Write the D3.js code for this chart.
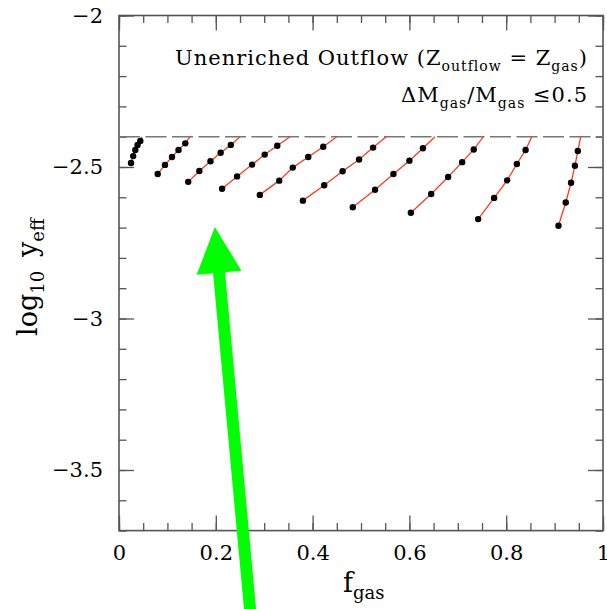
<html>
<head>
<meta charset="utf-8">
<script src="https://cdnjs.cloudflare.com/ajax/libs/d3/7.8.5/d3.min.js"></script>
<style>
  body { margin: 0; background: #fff; }
  svg text { font-family: "DejaVu Serif", serif; fill: #000; }
</style>
</head>
<body>
<svg id="chart" width="607" height="609"></svg>
<script>
// ---- data ----
// f_gas where each track leaves the no-outflow yield line (log10 y = -2.4)
const startFgas = [0.0475, 0.147, 0.250, 0.353, 0.450, 0.552, 0.653, 0.753, 0.853, 0.954];
const baseLogYield = -2.4;

// points along each track (5 outflow steps each)
const trackFgas = [
  [0.0248, 0.0293, 0.0337, 0.0384, 0.0440],
  [0.080, 0.095, 0.1095, 0.123, 0.137],
  [0.143, 0.166, 0.189, 0.210, 0.231],
  [0.213, 0.244, 0.275, 0.301, 0.327],
  [0.291, 0.331, 0.359, 0.391, 0.422],
  [0.380, 0.424, 0.462, 0.496, 0.525],
  [0.483, 0.529, 0.567, 0.600, 0.628],
  [0.603, 0.645, 0.680, 0.709, 0.733],
  [0.742, 0.775, 0.802, 0.822, 0.840],
  [0.908, 0.923, 0.934, 0.942, 0.948]
];
const trackLogY = [
  [-2.487, -2.464, -2.444, -2.427, -2.414],
  [-2.523, -2.493, -2.467, -2.444, -2.422],
  [-2.549, -2.513, -2.481, -2.453, -2.427],
  [-2.572, -2.531, -2.492, -2.459, -2.430],
  [-2.592, -2.545, -2.502, -2.467, -2.433],
  [-2.611, -2.560, -2.514, -2.475, -2.436],
  [-2.633, -2.575, -2.523, -2.479, -2.438],
  [-2.651, -2.589, -2.533, -2.484, -2.442],
  [-2.672, -2.602, -2.544, -2.490, -2.444],
  [-2.694, -2.617, -2.552, -2.496, -2.447]
];

const xTicks = [0, 0.2, 0.4, 0.6, 0.8, 1];
const yTicks = [-2, -2.5, -3, -3.5];
const xTickLabels = ["0", "0.2", "0.4", "0.6", "0.8", "1"];
const yTickLabels = ["\u22122", "\u22122.5", "\u22123", "\u22123.5"];

// green annotation arrow (tail, tip) in data units
const arrowTail = [0.272, -3.98];
const arrowTip = [0.198, -2.698];

// ---- layout ----
const svg = d3.select("#chart");
const mLeft = 119, mRight = 603, mTop = 15.5, mBottom = 530.6;

const x = d3.scaleLinear().domain([0, 1]).range([mLeft, mRight]);
const y = d3.scaleLinear().domain([-3.7, -2]).range([mBottom, mTop]);

const xMinor = d3.range(0, 1.0001, 0.05).map(v => +v.toFixed(2));
const yMinor = d3.range(-3.7, -1.9999, 0.1).map(v => +v.toFixed(1));

const tickColor = "#555";

function styleAxis(g) {
  g.select(".domain").remove();
  g.selectAll("line").attr("stroke", tickColor).attr("stroke-width", 1.3);
  g.selectAll("text").attr("font-size", 21).attr("font-family", "DejaVu Serif").attr("fill", "#000");
}

// bottom
svg.append("g").attr("transform", `translate(0,${mBottom})`)
  .call(d3.axisBottom(x).tickValues(xMinor).tickSize(-7.5).tickFormat(""))
  .call(styleAxis);
svg.append("g").attr("transform", `translate(0,${mBottom})`)
  .call(d3.axisBottom(x).tickValues(xTicks).tickSize(-15).tickPadding(14)
        .tickFormat((d, i) => xTickLabels[i]))
  .call(styleAxis);
// top
svg.append("g").attr("transform", `translate(0,${mTop})`)
  .call(d3.axisTop(x).tickValues(xMinor).tickSize(-7.5).tickFormat(""))
  .call(styleAxis);
svg.append("g").attr("transform", `translate(0,${mTop})`)
  .call(d3.axisTop(x).tickValues(xTicks).tickSize(-15).tickFormat(""))
  .call(styleAxis);
// left
svg.append("g").attr("transform", `translate(${mLeft},0)`)
  .call(d3.axisLeft(y).tickValues(yMinor).tickSize(-7.5).tickFormat(""))
  .call(styleAxis);
svg.append("g").attr("transform", `translate(${mLeft},0)`)
  .call(d3.axisLeft(y).tickValues(yTicks).tickSize(-15).tickPadding(16)
        .tickFormat((d, i) => yTickLabels[i]))
  .call(styleAxis);
// right
svg.append("g").attr("transform", `translate(${mRight},0)`)
  .call(d3.axisRight(y).tickValues(yMinor).tickSize(-7.5).tickFormat(""))
  .call(styleAxis);
svg.append("g").attr("transform", `translate(${mRight},0)`)
  .call(d3.axisRight(y).tickValues(yTicks).tickSize(-15).tickFormat(""))
  .call(styleAxis);

// frame
svg.append("rect")
  .attr("x", mLeft).attr("y", mTop)
  .attr("width", mRight - mLeft).attr("height", mBottom - mTop)
  .attr("fill", "none").attr("stroke", tickColor).attr("stroke-width", 1.6);

// no-outflow yield line
svg.append("line")
  .attr("x1", x(0)).attr("x2", x(1))
  .attr("y1", y(baseLogYield)).attr("y2", y(baseLogYield))
  .attr("stroke", "#777").attr("stroke-width", 1.6)
  .attr("stroke-dasharray", "21,5.5");

// tracks
const line = d3.line().x(d => x(d[0])).y(d => y(d[1]));
const tracks = trackFgas.map((xs, i) => {
  const pts = xs.map((v, j) => [v, trackLogY[i][j]]);
  return { pts, path: pts.concat([[startFgas[i], baseLogYield]]) };
});

svg.append("g").selectAll("path")
  .data(tracks)
  .join("path")
  .attr("d", d => line(d.path))
  .attr("fill", "none")
  .attr("stroke", "#ff3b1f")
  .attr("stroke-width", 1.3);

svg.append("g").selectAll("circle")
  .data(tracks.flatMap(t => t.pts))
  .join("circle")
  .attr("cx", d => x(d[0]))
  .attr("cy", d => y(d[1]))
  .attr("r", 3.2)
  .attr("fill", "#000");

// annotation text
const t1 = svg.append("text").attr("x", 588).attr("y", 65)
  .attr("text-anchor", "end").attr("font-size", 21).attr("letter-spacing", 1);
t1.append("tspan").text("Unenriched Outflow (Z");
t1.append("tspan").attr("dy", 6).attr("font-size", 14).text("outflow");
t1.append("tspan").attr("dy", -6).text(" = Z");
t1.append("tspan").attr("dy", 6).attr("font-size", 14).text("gas");
t1.append("tspan").attr("dy", -6).text(")");

const t2 = svg.append("text").attr("x", 588).attr("y", 102)
  .attr("text-anchor", "end").attr("font-size", 21).attr("letter-spacing", 1);
t2.append("tspan").text("\u0394M");
t2.append("tspan").attr("dy", 6).attr("font-size", 14).text("gas");
t2.append("tspan").attr("dy", -6).text("/M");
t2.append("tspan").attr("dy", 6).attr("font-size", 14).text("gas");
t2.append("tspan").attr("dy", -6).text(" \u22640.5");

// axis titles
const xl = svg.append("text").attr("x", 343).attr("y", 592).attr("font-size", 27);
xl.append("tspan").text("f");
xl.append("tspan").attr("dy", 7).attr("font-size", 18).text("gas");

const yl = svg.append("text")
  .attr("transform", "translate(37,336) rotate(-90)")
  .attr("font-size", 27);
yl.append("tspan").text("log");
yl.append("tspan").attr("dy", 7).attr("font-size", 18).text("10");
yl.append("tspan").attr("dy", -7).text("\u2009 y");
yl.append("tspan").attr("dy", 7).attr("font-size", 18).text("eff");

// green arrow
const tail = [x(arrowTail[0]), y(arrowTail[1])];
const tip = [x(arrowTip[0]), y(arrowTip[1])];
const adx = tip[0] - tail[0], ady = tip[1] - tail[1];
const alen = Math.hypot(adx, ady);
const ux = adx / alen, uy = ady / alen;
const headLen = 46, headHalf = 22.5;
const base = [tip[0] - headLen * ux, tip[1] - headLen * uy];
const arrow = svg.append("g");
arrow.append("line")
  .attr("x1", tail[0]).attr("y1", tail[1])
  .attr("x2", base[0] + 2 * ux).attr("y2", base[1] + 2 * uy)
  .attr("stroke", "#00ff00").attr("stroke-width", 12);
arrow.append("path")
  .attr("d", d3.line()([
    tip,
    [base[0] - headHalf * uy, base[1] + headHalf * ux],
    [base[0] + headHalf * uy, base[1] - headHalf * ux]
  ]) + "Z")
  .attr("fill", "#00ff00");
</script>
</body>
</html>
